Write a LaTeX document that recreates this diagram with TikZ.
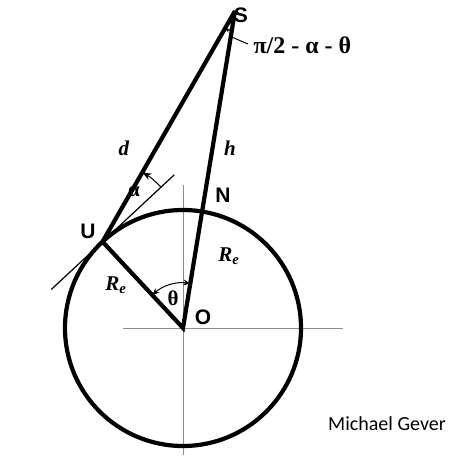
\documentclass[tikz,border=0pt]{standalone}
\usepackage{fontspec}
\setmainfont{Liberation Serif}
\newfontfamily\arialfont{Liberation Sans}
\newfontfamily\calibrifont{Carlito}
\usetikzlibrary{arrows.meta,calc}

\begin{document}
\begin{tikzpicture}[x=1pt,y=1pt,
  heavy/.style={line width=4.2pt},
  guide/.style={black!45, line width=0.8pt},
  arrowline/.style={line width=1pt},
  ptname/.style={font=\fontsize{21}{21}\selectfont\arialfont\bfseries},
  qty/.style={font=\fontsize{21}{21}\selectfont\bfseries\itshape},
  ang/.style={font=\fontsize{21}{21}\selectfont\bfseries}]
\useasboundingbox (-183,-128) rectangle (270,328);
\coordinate (O) at (0,0);
\coordinate (S) at (52,317);
\coordinate (U) at (133:118);
\coordinate (N) at ($(O)!118pt!(S)$);
% axes through the centre
\draw[guide] (-60,0) -- (160,0);
\draw[guide] (0,-127) -- (0,143);
% earth and the triangle
\draw[heavy] (O) circle[radius=118];
\draw[heavy] (S) -- (U) -- (O) -- (S);
% tangent at U
\draw[line width=1.2pt] ($(U)+(223:70)$) -- ($(U)+(43:98)$);
% angle marks
\draw[arrowline,{Stealth[length=7pt,width=6pt]}-{Stealth[length=7pt,width=6pt]}] (133:45) arc[start angle=133, end angle=80.7, radius=45];
\draw[arrowline,-{Stealth[length=9pt,width=7pt]}] ($(U)+(43:80)$) arc[start angle=43, end angle=60.1, radius=80];
\draw[arrowline,-{Stealth[length=5pt,width=4pt]}] ($(S)+(260.7:20)$) arc[start angle=260.7, end angle=240.1, radius=20];
\draw[arrowline] ($(S)+(260.7:26)$) -- (65,284);
% labels
\node[ptname] (Slbl) at (58,313) {S};
\node[ptname] (Nlbl) at (40,133) {N};
\node[ptname] (Ulbl) at (-95,97) {U};
\node[ptname] (Olbl) at (20,11) {O};
\node[qty] (dlbl) at (-59,180) {d};
\node[qty] (hlbl) at (47,180) {h};
\node[qty] (Reright) at (46,72) {R\textsubscript{e}};
\node[qty] (Releft) at (-67,43) {R\textsubscript{e}};
\node[ang] (alphalbl) at (-49,136) {α};
\node[ang] (thetalbl) at (-10,30) {θ};
\node[ang, anchor=west, font=\fontsize{24}{24}\selectfont\bfseries] (slbl) at (67,283) {π/2 - α - θ};
\node[font=\fontsize{20}{20}\selectfont\calibrifont] (author) at (204,-96) {Michael Gever};
\end{tikzpicture}
\end{document}
